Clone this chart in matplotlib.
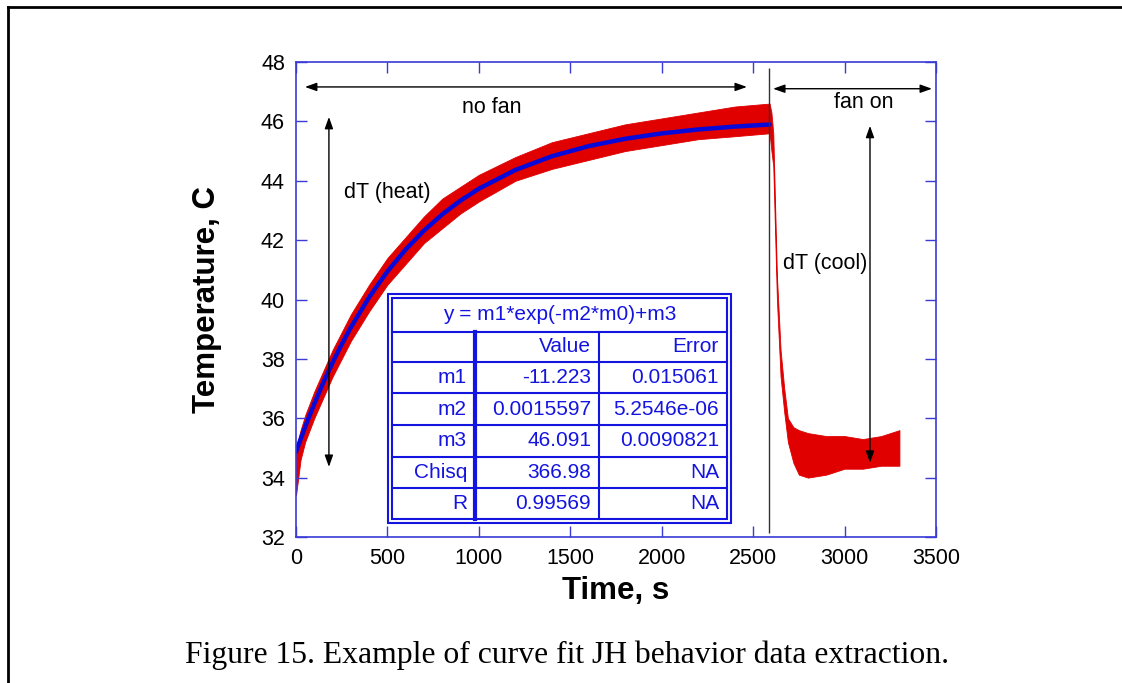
import numpy as np
import matplotlib.pyplot as plt
from matplotlib.lines import Line2D

plt.rcParams['font.family'] = ['Liberation Sans', 'DejaVu Sans']

# measured temperature trace, read as a noise band (lower / upper edge)
t_meas = [0, 25, 50, 100, 150, 200, 300, 400, 500, 600, 700, 800, 900, 1000,
          1200, 1400, 1600, 1800, 2000, 2200, 2400, 2590,
          2600, 2610, 2630, 2650, 2670, 2690, 2720, 2750, 2800, 2900, 3000,
          3100, 3200, 3300]
temp_lo = [33.4, 34.6, 35.2, 36.0, 36.7, 37.4, 38.6, 39.6, 40.5, 41.2, 41.9, 42.4, 42.9, 43.3,
           44.0, 44.4, 44.7, 45.0, 45.2, 45.4, 45.5, 45.6,
           45.0, 44.5, 40.0, 37.4, 36.2, 35.2, 34.5, 34.1, 34.0, 34.1, 34.3,
           34.3, 34.4, 34.4]
temp_hi = [35.0, 35.6, 36.1, 36.9, 37.6, 38.3, 39.5, 40.5, 41.4, 42.1, 42.8, 43.4, 43.8, 44.2,
           44.8, 45.3, 45.6, 45.9, 46.1, 46.3, 46.5, 46.6,
           46.3, 45.6, 40.8, 38.3, 37.0, 36.0, 35.7, 35.6, 35.5, 35.4, 35.4,
           35.3, 35.4, 35.6]

# fitted curve (blue)
t_fit = [0, 50, 100, 150, 200, 250, 300, 400, 500, 600, 700, 800, 900, 1000,
         1200, 1400, 1600, 1800, 2000, 2200, 2400, 2590]
temp_fit = [34.868, 35.710, 36.489, 37.209, 37.876, 38.492, 39.062, 40.077, 40.945,
            41.688, 42.324, 42.869, 43.334, 43.732, 44.364, 44.827, 45.166, 45.414,
            45.595, 45.728, 45.825, 45.894]

table_title = "y = m1*exp(-m2*m0)+m3"
row_names = ["", "m1", "m2", "m3", "Chisq", "R"]
col_value = ["Value", "-11.223", "0.0015597", "46.091", "366.98", "0.99569"]
col_error = ["Error", "0.015061", "5.2546e-06", "0.0090821", "NA", "NA"]

W, H = 1122, 683
fig = plt.figure(figsize=(W / 100, H / 100), dpi=100)
ax = fig.add_axes([296 / W, 1 - 537 / H, 640 / W, 475 / H])

spine_c = '#3a3ad6'
tab_c = '#1414e0'

ax.fill_between(t_meas, temp_lo, temp_hi, color='#e00000', lw=0.6, edgecolor='#e00000')
ax.plot(t_fit, temp_fit, color='#0808d8', lw=3.2, solid_capstyle='round')

ax.set_xlim(0, 3500)
ax.set_ylim(32, 48)
ax.set_xticks(np.arange(0, 3501, 500))
ax.set_yticks(np.arange(32, 49, 2))
ax.tick_params(direction='in', length=8, width=1, color=spine_c, labelsize=15.5,
               top=True, right=True, pad=8)
for s in ax.spines.values():
    s.set_color(spine_c)
    s.set_linewidth(1.2)
ax.set_xlabel('Time, s', fontsize=22.5, fontweight='bold', labelpad=5)
ax.set_ylabel('Temperature, C', fontsize=22.5, fontweight='bold', labelpad=28)

# annotations
arr = dict(arrowstyle='<|-|>,head_length=0.7,head_width=0.25', color='black', lw=1,
           shrinkA=0, shrinkB=0)
ax.annotate('', xy=(49, 47.16), xytext=(2466, 47.16), arrowprops=arr)
ax.annotate('', xy=(2609, 47.1), xytext=(3478, 47.1), arrowprops=arr)
ax.annotate('', xy=(180, 46.15), xytext=(180, 34.36), arrowprops=arr)
ax.annotate('', xy=(3139, 45.85), xytext=(3139, 34.5), arrowprops=arr)
ax.vlines(2587, 32.15, 47.8, color='#333333', lw=1)
ax.text(1072, 46.48, 'no fan', fontsize=15.5, ha='center', va='center')
ax.text(3106, 46.65, 'fan on', fontsize=15.5, ha='center', va='center')
ax.text(498, 43.62, 'dT (heat)', fontsize=15.5, ha='center', va='center')
ax.text(2893, 41.2, 'dT (cool)', fontsize=15.5, ha='center', va='center')


# fit table, laid out in figure pixels
def fx(px):
    return px / W


def fy(py):
    return 1 - py / H


def hline(x0, x1, y, lw=1.5):
    fig.add_artist(Line2D([fx(x0), fx(x1)], [fy(y), fy(y)], color=tab_c, lw=lw, zorder=5))


def vline(x, y0, y1, lw=1.5):
    fig.add_artist(Line2D([fx(x), fx(x)], [fy(y0), fy(y1)], color=tab_c, lw=lw, zorder=5))


fig.patches.append(plt.Rectangle((fx(388), fy(523)), fx(731) - fx(388), fy(294) - fy(523),
                                 transform=fig.transFigure, facecolor='white',
                                 edgecolor=tab_c, lw=1.5, zorder=3))
fig.patches.append(plt.Rectangle((fx(392), fy(519)), fx(727) - fx(392), fy(298) - fy(519),
                                 transform=fig.transFigure, facecolor='none',
                                 edgecolor=tab_c, lw=1.5, zorder=4))
row_y = [332, 362, 393, 425, 457, 488, 519]
for y in row_y[:-1]:
    hline(392, 727, y)
vline(475, 332, 519, lw=3)
vline(599, 332, 519)
fig.text(fx(560), fy(315), table_title, color=tab_c, fontsize=15, ha='center', va='center',
         zorder=6)
for i in range(len(row_names)):
    yc = fy((row_y[i] + row_y[i + 1]) / 2)
    fig.text(fx(467), yc, row_names[i], color=tab_c, fontsize=15, ha='right', va='center', zorder=6)
    fig.text(fx(591), yc, col_value[i], color=tab_c, fontsize=15, ha='right', va='center', zorder=6)
    fig.text(fx(719), yc, col_error[i], color=tab_c, fontsize=15, ha='right', va='center', zorder=6)

# page frame and caption
fig.add_artist(Line2D([fx(8), 1], [fy(7), fy(7)], color='black', lw=2))
fig.add_artist(Line2D([fx(8), fx(8)], [fy(7), 0], color='black', lw=2))
fig.text(fx(567), fy(655), 'Figure 15. Example of curve fit JH behavior data extraction.',
         family='Liberation Serif', fontsize=22.8, ha='center', va='center')

fig.savefig('out.png', dpi=100)
